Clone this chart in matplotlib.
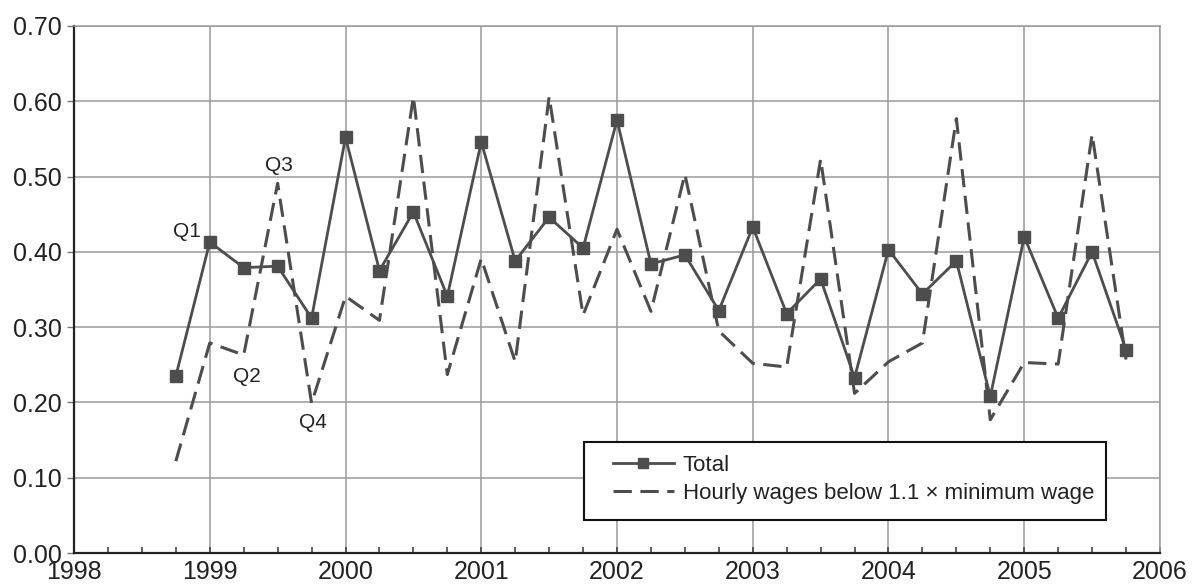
import matplotlib.pyplot as plt
from matplotlib.patches import Rectangle

# quarterly data, 1998 Q4 .. 2005 Q4
quarters = [1998.75 + 0.25 * i for i in range(29)]
total = [0.235, 0.413, 0.379, 0.381, 0.312, 0.552, 0.375, 0.453, 0.341,
         0.546, 0.388, 0.446, 0.405, 0.575, 0.384, 0.396, 0.322, 0.433,
         0.318, 0.364, 0.233, 0.403, 0.344, 0.388, 0.208, 0.420, 0.312,
         0.400, 0.270]
low_wage = [0.122, 0.279, 0.263, 0.491, 0.199, 0.341, 0.309, 0.606, 0.237,
            0.391, 0.254, 0.606, 0.316, 0.430, 0.321, 0.503, 0.295, 0.252,
            0.247, 0.523, 0.212, 0.254, 0.279, 0.577, 0.177, 0.253, 0.251,
            0.556, 0.257]
q_labels = ['Q1', 'Q2', 'Q3', 'Q4']
q_pos = [(1998.835, 0.427), (1999.27, 0.234), (1999.51, 0.515), (1999.76, 0.174)]

plt.rcParams['font.family'] = ['Liberation Sans', 'DejaVu Sans']
ink = '#4d4d4d'
txt = '#222222'

fig = plt.figure(figsize=(11.94, 5.88), dpi=100)
ax = fig.add_axes([0.062, 0.0595, 0.9095, 0.8963])

ax.plot(quarters, total, color=ink, lw=2.0, marker='s', markersize=8.5,
        label='Total', zorder=4)
ax.plot(quarters, low_wage, color=ink, lw=2.2, dashes=(6, 2.8),
        label='Hourly wages below 1.1 \u00d7 minimum wage', zorder=3)

for lab, (x, y) in zip(q_labels, q_pos):
    ax.text(x, y, lab, ha='center', va='center', fontsize=15, color=txt)

ax.set_xlim(1998, 2006)
ax.set_ylim(0, 0.70)
ax.set_xticks(range(1998, 2007))
ax.set_xticks([1998 + 0.25 * i for i in range(33)], minor=True)
ax.set_yticks([i / 10 for i in range(8)])
ax.set_yticklabels([f'{i / 10:.2f}' for i in range(8)])
ax.grid(True, which='major', color='#9a9a9a', lw=1.1)
ax.set_axisbelow(True)

ax.tick_params(axis='x', which='both', direction='in', length=4, width=1.2,
               color='#444444', labelsize=18, labelcolor=txt, pad=5)
ax.tick_params(axis='y', direction='out', length=5, width=1.0, color='#777777',
               labelsize=18, labelcolor=txt, pad=4)
for s in ['left', 'bottom']:
    ax.spines[s].set_color('#222222')
    ax.spines[s].set_linewidth(1.6)
for s in ['top', 'right']:
    ax.spines[s].set_color('#9a9a9a')
    ax.spines[s].set_linewidth(1.1)

# legend box drawn separately so the inner padding matches
ax.add_patch(Rectangle((0.4696, 0.0626), 0.4807, 0.148, transform=ax.transAxes,
                       facecolor='white', edgecolor='#111111', lw=1.5, zorder=5))
leg = ax.legend(loc='upper left', bbox_to_anchor=(0.496, 0.186), frameon=False,
                fontsize=16, handlelength=2.75, borderpad=0, borderaxespad=0,
                labelspacing=0.3, handletextpad=0.4, markerscale=0.9)
leg.set_zorder(6)
for t in leg.get_texts():
    t.set_color(txt)

fig.savefig('out.png', dpi=100)
